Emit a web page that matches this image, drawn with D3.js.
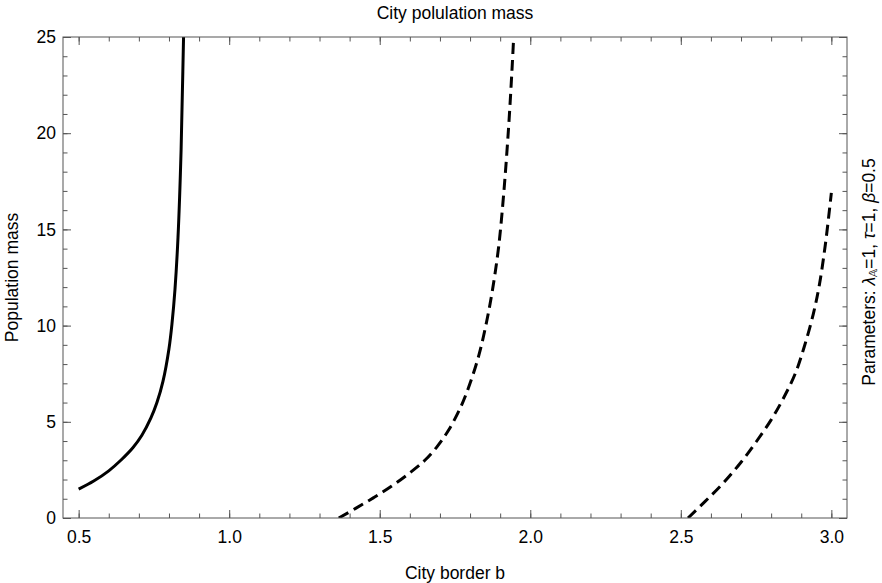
<!DOCTYPE html>
<html>
<head>
<meta charset="utf-8">
<script src="https://cdn.jsdelivr.net/npm/d3@7"></script>
<style>
  body { margin: 0; background: #fff; }
  text { font-family: "Liberation Sans", Arial, sans-serif; fill: #000; }
</style>
</head>
<body>
<div id="chart"></div>
<script>
// curve readings (city border b, population mass)
var solidB  = [0.50, 0.55, 0.60, 0.64, 0.68, 0.71, 0.74, 0.76, 0.78, 0.80, 0.81, 0.82, 0.83, 0.84, 0.846, 0.851];
var solidM  = [1.5, 1.92, 2.45, 3.0, 3.65, 4.3, 5.2, 6.0, 7.1, 8.8, 10.1, 11.9, 14.6, 19.0, 23.2, 27];

var dash1B  = [1.364, 1.42, 1.48, 1.54, 1.60, 1.65, 1.69, 1.73, 1.77, 1.80, 1.83, 1.855, 1.875, 1.895, 1.912, 1.928, 1.94, 1.948];
var dash1M  = [0, 0.5, 1.06, 1.66, 2.35, 3.0, 3.7, 4.6, 5.8, 7.0, 8.5, 10.2, 11.9, 14.1, 16.9, 20.3, 23.5, 26];

var dash2B  = [2.524, 2.58, 2.64, 2.70, 2.75, 2.80, 2.84, 2.88, 2.91, 2.94, 2.96, 2.98, 3.0];
var dash2M  = [0, 0.85, 1.8, 2.9, 3.95, 5.1, 6.2, 7.5, 8.9, 10.6, 12.1, 14.2, 16.9];

var xTicks = [0.5, 1.0, 1.5, 2.0, 2.5, 3.0];
var yTicks = [0, 5, 10, 15, 20, 25];

var W = 882, H = 583;
var pLeft = 63, pRight = 847, pTop = 37, pBottom = 518;   // plot frame

var svg = d3.select("#chart").append("svg")
  .attr("width", W).attr("height", H);

var x = d3.scaleLinear().domain([0.448, 3.052]).range([pLeft, pRight]);
var y = d3.scaleLinear().domain([0, 25]).range([pBottom, pTop]);

var xMinor = d3.range(5, 31).map(function(d){ return d / 10; });
var yMinor = d3.range(0, 26);

// clip curves to the frame
svg.append("clipPath").attr("id", "clip")
  .append("rect").attr("x", pLeft).attr("y", pTop)
  .attr("width", pRight - pLeft).attr("height", pBottom - pTop);

var line = d3.line()
  .x(function(d){ return x(d[0]); })
  .y(function(d){ return y(d[1]); })
  .curve(d3.curveCatmullRom.alpha(0.5));

function pairs(bs, ms) { return bs.map(function(b, i){ return [b, ms[i]]; }); }

var curves = svg.append("g").attr("clip-path", "url(#clip)");
curves.append("path").datum(pairs(solidB, solidM))
  .attr("d", line).attr("fill", "none").attr("stroke", "#000")
  .attr("stroke-width", 3);
curves.append("path").datum(pairs(dash1B, dash1M))
  .attr("d", line).attr("fill", "none").attr("stroke", "#000")
  .attr("stroke-width", 3).attr("stroke-dasharray", "11,6");
curves.append("path").datum(pairs(dash2B, dash2M))
  .attr("d", line).attr("fill", "none").attr("stroke", "#000")
  .attr("stroke-width", 3).attr("stroke-dasharray", "11,6");

// axes: ticks point inward on all four sides
function styleAxis(g) {
  g.select(".domain").remove();
  g.selectAll(".tick line").attr("stroke", "#555");
  g.selectAll(".tick text").style("font-size", "17.5px")
    .style("font-family", '"Liberation Sans", Arial, sans-serif').attr("fill", "#000");
}

svg.append("g").attr("transform", "translate(0," + pBottom + ")")
  .call(d3.axisBottom(x).tickValues(xMinor).tickSize(-4.5).tickFormat(""))
  .call(styleAxis);
svg.append("g").attr("transform", "translate(0," + pBottom + ")")
  .call(d3.axisBottom(x).tickValues(xTicks).tickSize(-8).tickPadding(12.5)
    .tickFormat(d3.format(".1f")))
  .call(styleAxis);
svg.append("g").attr("transform", "translate(0," + pTop + ")")
  .call(d3.axisTop(x).tickValues(xMinor).tickSize(-4.5).tickFormat(""))
  .call(styleAxis);
svg.append("g").attr("transform", "translate(0," + pTop + ")")
  .call(d3.axisTop(x).tickValues(xTicks).tickSize(-8).tickFormat(""))
  .call(styleAxis);

svg.append("g").attr("transform", "translate(" + pLeft + ",0)")
  .call(d3.axisLeft(y).tickValues(yMinor).tickSize(-4.5).tickFormat(""))
  .call(styleAxis);
svg.append("g").attr("transform", "translate(" + pLeft + ",0)")
  .call(d3.axisLeft(y).tickValues(yTicks).tickSize(-8).tickPadding(7))
  .call(styleAxis);
svg.append("g").attr("transform", "translate(" + pRight + ",0)")
  .call(d3.axisRight(y).tickValues(yMinor).tickSize(-4.5).tickFormat(""))
  .call(styleAxis);
svg.append("g").attr("transform", "translate(" + pRight + ",0)")
  .call(d3.axisRight(y).tickValues(yTicks).tickSize(-8).tickFormat(""))
  .call(styleAxis);

svg.append("rect")
  .attr("x", pLeft).attr("y", pTop)
  .attr("width", pRight - pLeft).attr("height", pBottom - pTop)
  .attr("fill", "none").attr("stroke", "#555").attr("stroke-width", 1);

// labels
svg.append("text").attr("x", (pLeft + pRight) / 2).attr("y", 19)
  .attr("text-anchor", "middle").style("font-size", "17.5px")
  .text("City polulation mass");

svg.append("text").attr("x", (pLeft + pRight) / 2).attr("y", 579)
  .attr("text-anchor", "middle").style("font-size", "17.5px")
  .text("City border b");

svg.append("text")
  .attr("transform", "translate(17.5," + ((pTop + pBottom) / 2) + ") rotate(-90)")
  .attr("text-anchor", "middle").style("font-size", "17.5px")
  .text("Population mass");

var param = svg.append("text")
  .attr("transform", "translate(875,272) rotate(-90)")
  .attr("text-anchor", "middle").style("font-size", "17.5px");
param.append("tspan").text("Parameters: ");
param.append("tspan").style("font-style", "italic").text("λ");
param.append("tspan").style("font-size", "11px").attr("dy", 2)
  .style("font-family", '"DejaVu Sans", sans-serif').text("𝔸");
param.append("tspan").attr("dy", -2).text("=1, ");
param.append("tspan").style("font-style", "italic").text("τ");
param.append("tspan").text("=1, ");
param.append("tspan").style("font-style", "italic").text("β");
param.append("tspan").text("=0.5");
</script>
</body>
</html>
